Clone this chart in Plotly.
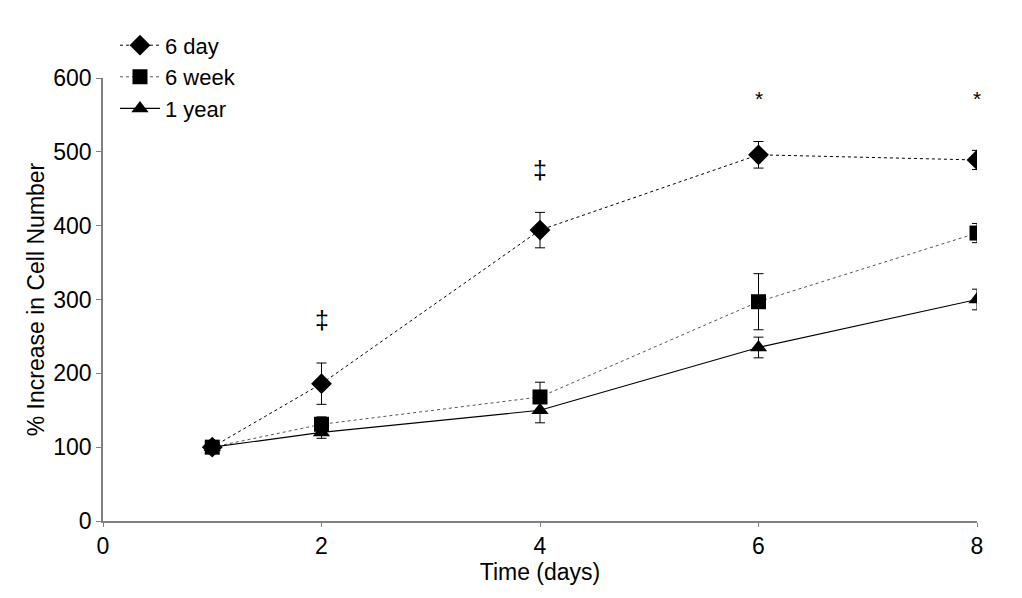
import plotly.graph_objects as go

days = [1, 2, 4, 6, 8]
day6_vals = [100, 186, 394, 496, 489]
day6_err = [0, 28, 24, 18, 13]
week6_vals = [100, 131, 168, 297, 390]
week6_err = [0, 10, 20, 38, 13]
year1_vals = [100, 120, 150, 235, 300]
year1_err = [0, 8, 17, 14, 14]

sig_x = [2, 4, 6, 8]
sig_y = [272, 475, 572, 572]
sig_text = ["‡", "‡", "*", "*"]

font = "Liberation Sans, Arial, sans-serif"

fig = go.Figure()
fig.add_trace(go.Scatter(
    x=days, y=day6_vals, name="6 day", mode="lines+markers",
    line=dict(color="black", width=1, dash="3px,3px"),
    marker=dict(symbol="diamond", size=16, color="black"),
    error_y=dict(type="data", array=day6_err, color="black", thickness=1, width=5),
))
fig.add_trace(go.Scatter(
    x=days, y=week6_vals, name="6 week", mode="lines+markers",
    line=dict(color="#555555", width=1, dash="dot"),
    marker=dict(symbol="square", size=15, color="black"),
    error_y=dict(type="data", array=week6_err, color="black", thickness=1, width=5),
))
fig.add_trace(go.Scatter(
    x=days, y=year1_vals, name="1 year", mode="lines+markers",
    line=dict(color="black", width=1.2),
    marker=dict(symbol="triangle-up", size=15, color="black"),
    error_y=dict(type="data", array=year1_err, color="black", thickness=1, width=5),
))

for x, y, t in zip(sig_x, sig_y, sig_text):
    fig.add_annotation(x=x, y=y, text=t, showarrow=False,
                       font=dict(family=font, size=25 if t == "‡" else 21, color="#000000"))

fig.update_layout(
    width=1014, height=590,
    margin=dict(l=95, r=45, t=70, b=77, autoexpand=False),
    paper_bgcolor="white", plot_bgcolor="white",
    font=dict(family=font, size=23, color="black"),
    showlegend=True,
    legend=dict(x=0.0137, y=1.121, xanchor="left", yanchor="top",
                bgcolor="rgba(0,0,0,0)", font=dict(size=22, color="black"),
                tracegroupgap=0, itemwidth=40),
    xaxis=dict(range=[0, 8], tickvals=[0, 2, 4, 6, 8], showgrid=False, zeroline=False,
               showline=True, linecolor="#808080", linewidth=1.5, ticks="outside",
               ticklen=4, tickcolor="#808080", tickfont=dict(size=23, color="black"),
               title=dict(text="Time (days)", font=dict(size=23, color="black"), standoff=0)),
    yaxis=dict(range=[0, 600], tickvals=[0, 100, 200, 300, 400, 500, 600], showgrid=False,
               zeroline=False, showline=True, linecolor="#808080", linewidth=1.5,
               ticks="outside", ticklen=5, tickcolor="#808080", tickfont=dict(size=23, color="black"),
               title=dict(text="% Increase in Cell Number", font=dict(size=23, color="black"), standoff=2)),
)

fig.write_html("out.html")
